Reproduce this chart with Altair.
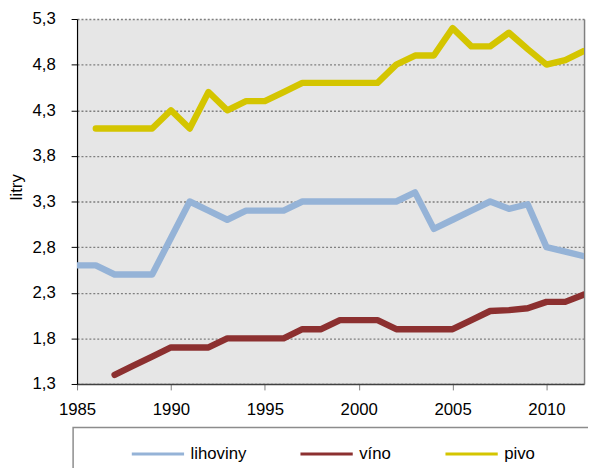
import altair as alt
import pandas as pd

# ---- data ----
series = ["lihoviny", "víno", "pivo"]
colors = ["#95B3D7", "#8C3030", "#D4C500"]

lihoviny_years = list(range(1985, 2013))
lihoviny = [2.6, 2.6, 2.5, 2.5, 2.5, 2.9, 3.3, 3.2, 3.1, 3.2, 3.2, 3.2, 3.3, 3.3,
            3.3, 3.3, 3.3, 3.3, 3.4, 3.0, 3.1, 3.2, 3.3, 3.22, 3.27, 2.8, 2.75, 2.7]

vino_years = list(range(1987, 2013))
vino = [1.4, 1.5, 1.6, 1.7, 1.7, 1.7, 1.8, 1.8, 1.8, 1.8, 1.9, 1.9, 2.0, 2.0,
        2.0, 1.9, 1.9, 1.9, 1.9, 2.0, 2.1, 2.11, 2.13, 2.2, 2.2, 2.28]

pivo_years = list(range(1986, 2013))
pivo = [4.1, 4.1, 4.1, 4.1, 4.3, 4.1, 4.5, 4.3, 4.4, 4.4, 4.5, 4.6, 4.6, 4.6,
        4.6, 4.6, 4.8, 4.9, 4.9, 5.2, 5.0, 5.0, 5.15, 4.97, 4.8, 4.85, 4.95]

x_ticks = [1985, 1990, 1995, 2000, 2005, 2010]
y_ticks = [1.3, 1.8, 2.3, 2.8, 3.3, 3.8, 4.3, 4.8, 5.3]
title_text = "V HODNOTĚ ČISTÉHO LIHU"
y_title = "litry"

rows = []
for name, yrs, vals in [("lihoviny", lihoviny_years, lihoviny),
                        ("víno", vino_years, vino),
                        ("pivo", pivo_years, pivo)]:
    for y, v in zip(yrs, vals):
        rows.append({"rok": y, "hodnota": v, "druh": name})
df = pd.DataFrame(rows)

FONT = "Liberation Sans"

x_scale = alt.Scale(domain=[1985, 2012], nice=False, zero=False)
y_scale = alt.Scale(domain=[1.3, 5.3], nice=False, zero=False)

x_enc = alt.X("rok:Q", scale=x_scale,
              axis=alt.Axis(values=x_ticks, format="d", title=None,
                            labelFontSize=17, labelColor="black", labelFont=FONT,
                            tickSize=6, tickColor="#7f7f7f", labelPadding=12,
                            domainColor="#404040", domainWidth=1.5, grid=False,
                            labelFlush=False))

# frame around the legend (decoration only)
legend_frame = alt.Chart(pd.DataFrame({"k": [0]})).mark_rect(
    fill="white", stroke="#8c8c8c", strokeWidth=1.5
).encode(
    x=alt.value(-4), x2=alt.value(560), y=alt.value(414), y2=alt.value(480)
)

lines = alt.Chart(df).mark_line(
    strokeWidth=6.5, strokeCap="round", strokeJoin="round", clip=True
).encode(
    x=x_enc,
    y=alt.Y("hodnota:Q", scale=y_scale,
            axis=alt.Axis(values=y_ticks, title=y_title, orient="left",
                          labelExpr="replace(format(datum.value, '.1f'), '.', ',')",
                          labelFontSize=17, labelColor="black", labelFont=FONT,
                          tickSize=6, tickColor="#000000", labelPadding=16,
                          domainColor="#000000", domainWidth=1.2,
                          grid=True, gridColor="#7f7f7f", gridDash=[2, 2],
                          gridWidth=1.3,
                          titleFontSize=17, titleFont=FONT, titleFontWeight="normal",
                          titleColor="black", titleX=-52, titleY=170,
                          titleBaseline="bottom", titleAngle=270)),
    color=alt.Color("druh:N",
                    scale=alt.Scale(domain=series, range=colors),
                    legend=alt.Legend(orient="none", legendX=54, legendY=413,
                                      direction="horizontal", title=None,
                                      gridAlign="each",
                                      symbolType="stroke", symbolSize=2809,
                                      symbolStrokeWidth=3,
                                      labelFontSize=17, labelFont=FONT,
                                      labelColor="black", labelOffset=5,
                                      labelLimit=500,
                                      columnPadding=48, padding=0)),
    order=alt.Order("rok:Q"),
)

right_border = alt.Chart(df).mark_line(strokeOpacity=0).encode(
    x=alt.X("rok:Q", scale=x_scale),
    y=alt.Y("hodnota:Q", scale=y_scale,
            axis=alt.Axis(orient="right", labels=False, ticks=False, grid=False,
                          title=None, domainColor="#7f7f7f", domainWidth=1.5)),
    detail="druh:N",
)

chart = alt.layer(legend_frame, lines, right_border).resolve_axis(y="independent").properties(
    width=514,
    height=370,
    autosize=alt.AutoSizeParams(type="none"),
    padding={"left": 70, "top": 8, "right": 4, "bottom": 82},
    title=alt.TitleParams(title_text, fontSize=17, fontWeight="bold", font=FONT,
                          color="black", anchor="middle", offset=9),
).configure(
    font=FONT,
).configure_view(
    fill="#E6E6E6", stroke="transparent"
)

chart.save("out.html", embed_options={"renderer": "svg", "actions": False})
